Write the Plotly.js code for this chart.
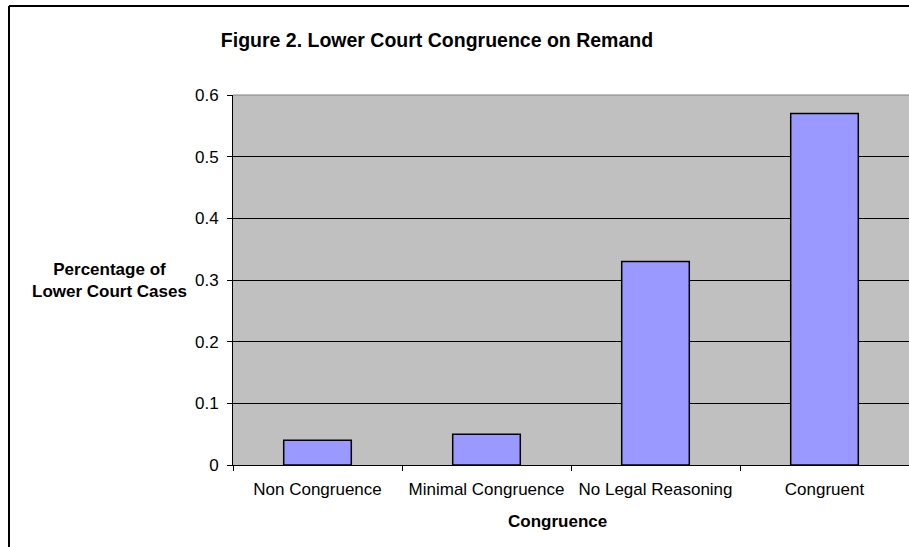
<!DOCTYPE html>
<html>
<head>
<meta charset="utf-8">
<script src="https://cdn.plot.ly/plotly-3.0.1.min.js"></script>
<style>
html,body{margin:0;padding:0;background:#fff;}
#chart{width:909px;height:547px;}
</style>
</head>
<body>
<div id="chart"></div>
<script>
const categories = ["Non Congruence", "Minimal Congruence", "No Legal Reasoning", "Congruent"];
const values = [0.04, 0.05, 0.33, 0.57];
const yTicks = [0, 0.1, 0.2, 0.3, 0.4, 0.5, 0.6];
const yTickLabels = ["0", "0.1", "0.2", "0.3", "0.4", "0.5", "0.6"];

const FONT = "Liberation Sans, Arial, sans-serif";
const L = 233, R = 909, T = 95, B = 465;
const px = x => (x - L) / (R - L);
const py = y => (B - y) / (B - T);

const trace = {
  type: "bar",
  x: categories,
  y: values,
  marker: {color: "#9999ff", line: {color: "#000000", width: 1.5}},
  hoverinfo: "x+y"
};

const layout = {
  width: 909, height: 547,
  margin: {l: L, r: 909 - R, t: T, b: 547 - B, pad: 0},
  paper_bgcolor: "#ffffff",
  plot_bgcolor: "#c0c0c0",
  font: {family: FONT, size: 17, color: "#000"},
  bargap: 0.6,
  showlegend: false,
  title: {
    text: "<b>Figure 2. Lower Court Congruence on Remand</b>",
    font: {family: FONT, size: 19.5, color: "#000"},
    xref: "container", yref: "container",
    x: 437 / 909, y: 1 - 40 / 547, xanchor: "center", yanchor: "middle"
  },
  xaxis: {
    type: "category",
    tickson: "boundaries",
    ticks: "outside", ticklen: 5, tickcolor: "#000", tickwidth: 1,
    showline: true, linecolor: "#000", linewidth: 1,
    showgrid: false, zeroline: false,
    tickfont: {family: FONT, size: 17, color: "#000"},
    ticklabelstandoff: 9,
    fixedrange: true
  },
  yaxis: {
    range: [0, 0.6],
    tickvals: yTicks, ticktext: yTickLabels,
    ticks: "outside", ticklen: 5, tickcolor: "#000", tickwidth: 1,
    showline: true, linecolor: "#000", linewidth: 1,
    showgrid: true, gridcolor: "#000", gridwidth: 1,
    zeroline: false,
    tickfont: {family: FONT, size: 17, color: "#000"},
    ticklabelstandoff: 5,
    fixedrange: true
  },
  annotations: [
    {
      text: "<b>Percentage of<br>Lower Court Cases</b>",
      xref: "paper", yref: "paper", x: px(110), y: py(280),
      xanchor: "center", yanchor: "middle", showarrow: false,
      font: {family: FONT, size: 17, color: "#000"}, align: "center"
    },
    {
      text: "<b>Congruence</b>",
      xref: "paper", yref: "paper", x: px(557), y: py(521),
      xanchor: "center", yanchor: "middle", showarrow: false,
      font: {family: FONT, size: 17, color: "#000"}
    }
  ],
  shapes: [
    {type: "line", xref: "paper", yref: "paper", x0: px(9), x1: px(9), y0: py(6), y1: py(560),
     line: {color: "#000", width: 2}},
    {type: "line", xref: "paper", yref: "paper", x0: px(9), x1: px(920), y0: py(6), y1: py(6),
     line: {color: "#000", width: 2}},
    {type: "line", xref: "paper", yref: "paper", x0: 0, x1: 1, y0: 1, y1: 1,
     line: {color: "#808080", width: 1}}
  ]
};

Plotly.newPlot("chart", [trace], layout, {displayModeBar: false, staticPlot: true});
</script>
</body>
</html>
